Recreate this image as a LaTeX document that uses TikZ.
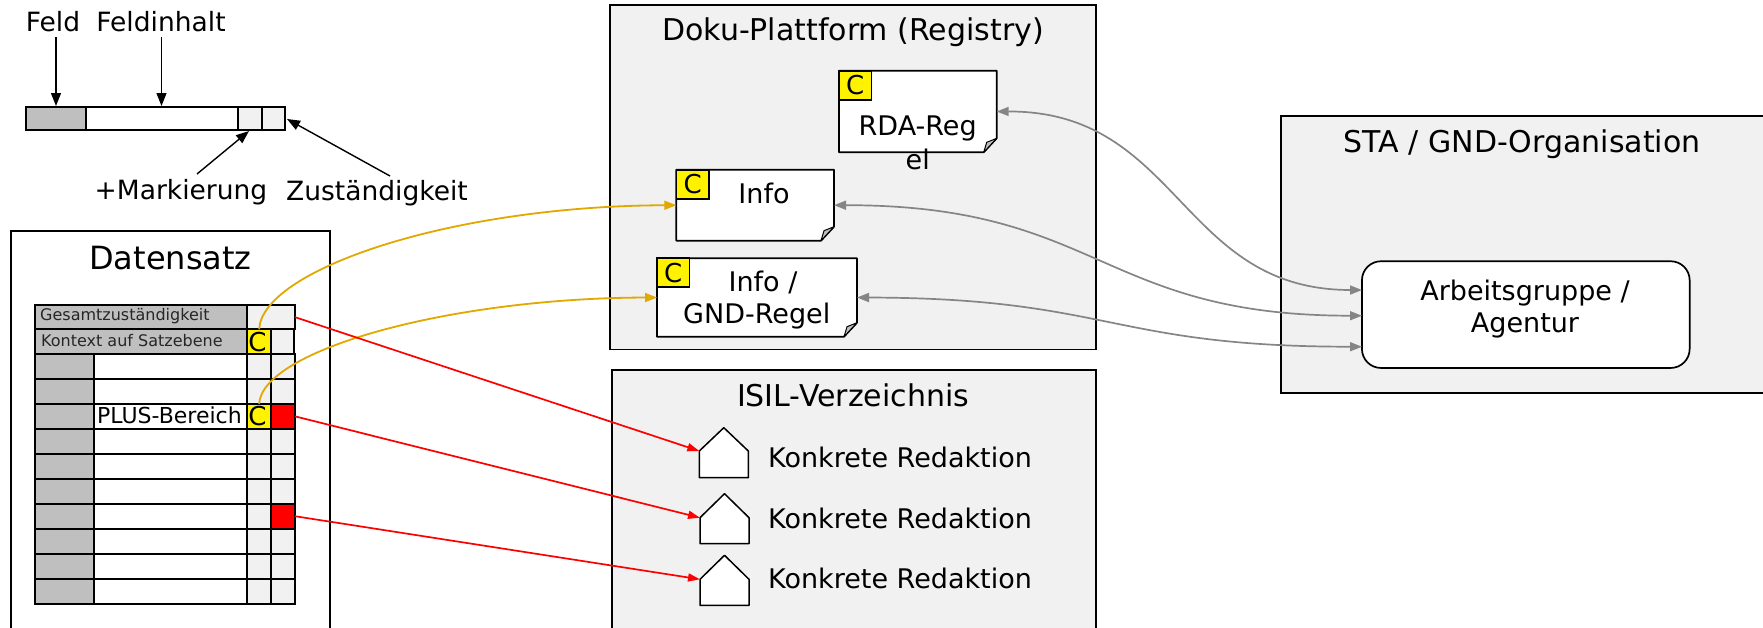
\documentclass[tikz,border=0pt]{standalone}
\usepackage{fontspec}
\setmainfont{DejaVu Sans}
\usetikzlibrary{arrows.meta}
\definecolor{panel}{HTML}{F1F1F1}
\definecolor{keyg}{HTML}{BFBFBF}
\definecolor{gold}{HTML}{E0A800}
\definecolor{arrowg}{HTML}{858585}
\newcommand{\bx}[7][]{\node[boxy,#1,fill=#7,minimum width={(#4-#2)*1pt},minimum height={(#5-#3)*1pt}] (#6) at ({(#2+#4)/2},{(#3+#5)/2}) {};}
\newcommand{\notesheet}[5]{%
\node[inner sep=0,outer sep=0,minimum width={(#4-#2)*1pt},minimum height={(#5-#3)*1pt}] (#1) at ({(#2+#4)/2},{(#3+#5)/2}) {};
\draw[line width=1.7pt,fill=white,line join=round] (#2,#3) -- (#4,#3) -- (#4,#5-14) -- (#4-13,#5) -- (#2,#5) -- cycle;
\draw[line width=1pt,fill=keyg,line join=round] (#4-13,#5) -- (#4-10,#5-10) -- (#4,#5-14) -- cycle;
\node[cfl] (#1c) at ({#2+16.3},{#3+14.5}) {C};}
\tikzset{
 x=1pt,y=-1pt,
 boxy/.style={draw=black,line width=1.7pt,inner sep=0,outer sep=0},
 lbl/.style={inner sep=0,font=\fontsize{27}{32}\selectfont,text=black},
 leg/.style={inner sep=0,font=\fontsize{26.5}{32}\selectfont,text=black},
 ttl/.style={inner sep=0,font=\fontsize{30}{34}\selectfont,text=black},
 big/.style={inner sep=0,font=\fontsize{32}{36}\selectfont,text=black},
 sml/.style={inner sep=0,font=\fontsize{16}{20}\selectfont,text=black!85,anchor=west},
 cfl/.style={boxy,fill=yellow,minimum width=32.5pt,minimum height=29pt,font=\fontsize{26}{30}\selectfont},
 blk/.style={-{Triangle[length=13pt,width=10pt]},line width=1.4pt,black},
 goldc/.style={-{Triangle[length=12pt,width=9pt]},line width=1.8pt,gold},
 redc/.style={-{Triangle[length=12pt,width=8pt]},line width=1.7pt,red},
 grayc/.style={{Triangle[length=12pt,width=9pt]}-{Triangle[length=12pt,width=9pt]},line width=1.7pt,arrowg},
}
\begin{document}
\begin{tikzpicture}
\useasboundingbox (0,0) rectangle (1763,627);
% legend
\bx{26}{107}{86}{130}{lk}{keyg}
\bx{86}{107}{238}{130}{lv}{white}
\bx{238}{107}{262}{130}{lm}{panel}
\bx{262}{107}{285}{130}{lz}{panel}
\node[leg] (tfeld) at (53,22) {Feld};
\node[leg] (tinh) at (161,22) {Feldinhalt};
\node[leg] (tmark) at (181,192) {+Markierung};
\node[leg] (tzust) at (377,193) {Zuständigkeit};
\coordinate (a1) at (56,37); \coordinate (a2) at (56,106);
\coordinate (b1) at (161.5,37); \coordinate (b2) at (161.5,106);
\coordinate (c1) at (197,174); \coordinate (c2) at (249,131);
\coordinate (d1) at (390,176); \coordinate (d2) at (287,119);
\draw[blk] (a1) -- (a2);
\draw[blk] (b1) -- (b2);
\draw[blk] (c1) -- (c2);
\draw[blk] (d1) -- (d2);
% Datensatz
\draw[line width=1.7pt,fill=white] (11,640) -- (11,231) -- (330,231) -- (330,640);
\node[big] (tds) at (170.5,258.5) {Datensatz};
\bx{35}{305}{247.3}{329.3}{r1k}{keyg}
\bx{247.3}{305}{295}{329.3}{r1z}{panel}
\bx{35}{329.3}{247.3}{354.3}{r2k}{keyg}
\bx{271}{329.3}{294}{354.3}{r2z}{panel}
\bx{247.3}{329.3}{271}{354.3}{r2m}{yellow}
\foreach \n/\ya/\yb/\cm/\cz in {3/354.3/379.3/panel/panel,4/379.3/404/panel/panel,5/404/428.7/yellow/red,6/428.7/453.7/panel/panel,7/453.7/479/panel/panel,8/479/503.7/panel/panel,9/503.7/528.7/panel/red,10/528.7/553.7/panel/panel,11/553.7/578.7/panel/panel,12/578.7/603.7/panel/panel}{
 \bx{35}{\ya}{93.7}{\yb}{r\n k}{keyg}
 \bx{93.7}{\ya}{247.3}{\yb}{r\n v}{white}
 \bx{247.3}{\ya}{271}{\yb}{r\n m}{\cm}
 \bx{271}{\ya}{295}{\yb}{r\n z}{\cz}
}
\node[sml] (tges) at (40,316) {Gesamtzuständigkeit};
\node[sml] (tkon) at (41,341) {Kontext auf Satzebene};
\node[inner sep=0,anchor=west,font=\fontsize{22}{26}\selectfont] (tplus) at (97,415) {PLUS-Bereich};
\node[inner sep=0,font=\fontsize{26}{30}\selectfont] (c2t) at (257.5,342) {C};
\node[inner sep=0,font=\fontsize{26}{30}\selectfont] (c5t) at (257.5,416.5) {C};
% Doku
\bx{610.3}{5}{1095.7}{349.5}{doku}{panel}
\node[ttl] (tdoku) at (853,32.5) {Doku-Plattform (Registry)};
\notesheet{rda}{839}{70.7}{996.7}{152.3}
\notesheet{info}{676.3}{169.7}{834}{240.7}
\notesheet{gnd}{657}{258.3}{857}{336.7}
\node[lbl] (t1) at (917.7,128) {RDA-Reg};
\node[lbl] (t2) at (917.7,159.5) {el};
\node[lbl] (t3) at (764,193.5) {Info};
\node[lbl] (t4) at (763,282) {Info /};
\node[lbl] (t5) at (756.7,316) {GND-Regel};
% ISIL
\draw[line width=1.7pt,fill=panel] (611.7,640) -- (611.7,369.7) -- (1095.7,369.7) -- (1095.7,640);
\node[ttl] (tisil) at (853,395) {ISIL-Verzeichnis};
\foreach \n/\xa/\xb/\ya/\ys/\yb/\yt in {1/699.3/748.3/427.7/451/477.7/457,2/700/749/493.7/517.7/543.7/518.5,3/700/749/555.3/579.3/605.3/578}{
 \draw[line width=1.5pt,fill=white,line join=round] (\xa,\ys) -- ({(\xa+\xb)/2},\ya) -- (\xb,\ys) -- (\xb,\yb) -- (\xa,\yb) -- cycle;
 \coordinate (h\n) at (\xa,\ys);
 \node[lbl,anchor=west] (tk\n) at (768,\yt) {Konkrete Redaktion};
}
% STA
\draw[line width=1.7pt,fill=panel] (1780,115.7) -- (1280.7,115.7) -- (1280.7,392.7) -- (1780,392.7);
\node[ttl] (tsta) at (1522,144) {STA / GND-Organisation};
\node[draw=black,line width=1.7pt,fill=white,rounded corners=19pt,minimum width=327.7pt,minimum height=106.7pt,inner sep=0,outer sep=0] (ag) at (1525.8,314.6) {};
\node[lbl] (t6) at (1525,293) {Arbeitsgruppe /};
\node[lbl] (t7) at (1525,325) {Agentur};
\coordinate (ag1) at (1362,290);
\coordinate (ag2) at (1362,315.7);
\coordinate (ag3) at (1362,346.7);
% connectors
\draw[goldc] (r2m.north) .. controls (262,270) and (450,206) .. (info.west);
\draw[goldc] (r5m.north) .. controls (262,350) and (450,298) .. (gnd.west);
\draw[redc] (r1z.east) -- (h1);
\draw[redc] (r5z.east) -- (h2);
\draw[redc] (r9z.east) -- (h3);
\draw[grayc] (rda.east) .. controls (1180,111) and (1180,290) .. (ag1);
\draw[grayc] (info.east) .. controls (1100,205) and (1100,315.7) .. (ag2);
\draw[grayc] (gnd.east) .. controls (1110,298) and (1110,346.7) .. (ag3);
\end{tikzpicture}
\end{document}
